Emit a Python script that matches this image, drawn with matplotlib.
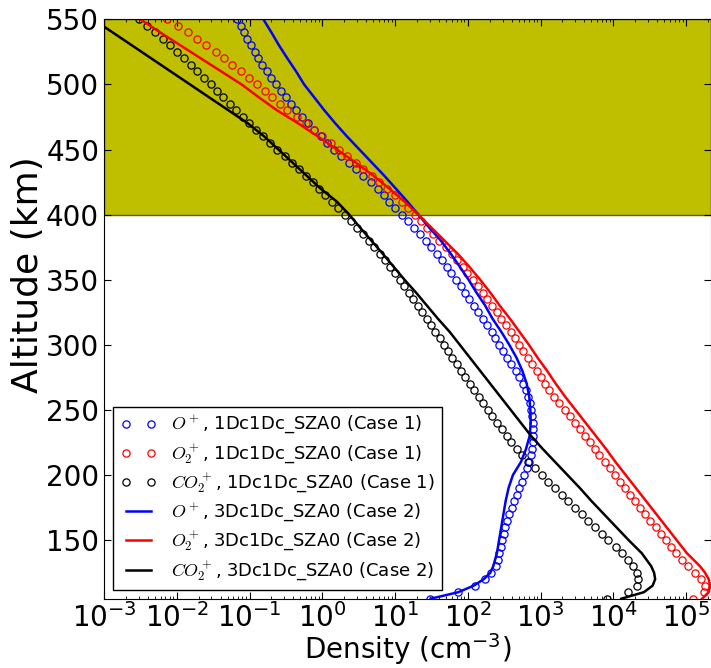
import numpy as np
import matplotlib
matplotlib.use("Agg")
import matplotlib.pyplot as plt
from matplotlib.ticker import LogLocator

plt.rcParams['axes.unicode_minus'] = False
plt.rcParams['xtick.direction'] = 'in'
plt.rcParams['ytick.direction'] = 'in'
plt.rcParams['xtick.top'] = True
plt.rcParams['ytick.right'] = True

# altitude grid of the 1D model (circles), km
alt_1d = [550, 545, 540, 535, 530, 525, 520, 515, 510, 505,
          500, 495, 490, 485, 480, 475, 470, 465, 460, 455,
          450, 445, 440, 435, 430, 425, 420, 415, 410, 405,
          400, 395, 390, 385, 380, 375, 370, 365, 360, 355,
          350, 345, 340, 335, 330, 325, 320, 315, 310, 305,
          300, 295, 290, 285, 280, 275, 270, 265, 260, 255,
          250, 245, 240, 235, 230, 225, 220, 215, 210, 205,
          200, 195, 190, 185, 180, 175, 170, 165, 160, 155,
          150, 145, 140, 135, 130, 125, 120, 115, 110, 105]

# log10 density (cm^-3), case 1
op_1d = [-1.168, -1.121, -1.076, -1.030, -0.979, -0.929, -0.879, -0.824, -0.764, -0.700,
         -0.636, -0.572, -0.503, -0.434, -0.357, -0.274, -0.196, -0.113, -0.021, 0.070,
         0.162, 0.262, 0.368, 0.460, 0.564, 0.666, 0.766, 0.85, 0.92, 1.00,
         1.09, 1.18, 1.26, 1.34, 1.42, 1.49, 1.57, 1.64, 1.71, 1.77,
         1.84, 1.90, 1.96, 2.02, 2.08, 2.14, 2.21, 2.27, 2.33, 2.38,
         2.43, 2.49, 2.54, 2.60, 2.66, 2.70, 2.755, 2.796, 2.828, 2.851,
         2.874, 2.888, 2.897, 2.901, 2.901, 2.892, 2.883, 2.865, 2.842, 2.810,
         2.773, 2.741, 2.709, 2.672, 2.636, 2.603, 2.571, 2.539, 2.516, 2.493,
         2.470, 2.452, 2.434, 2.416, 2.384, 2.324, 2.237, 2.100, 1.870, 1.481]

o2p_1d = [-2.130, -1.983, -1.845, -1.717, -1.594, -1.465, -1.351, -1.236, -1.121, -1.007,
          -0.892, -0.783, -0.686, -0.581, -0.480, -0.351, -0.228, -0.113, 0.001, 0.116,
          0.230, 0.345, 0.460, 0.564, 0.680, 0.784, 0.894, 0.996, 1.092, 1.18,
          1.27, 1.36, 1.436, 1.527, 1.610, 1.701, 1.779, 1.857, 1.930, 1.994,
          2.067, 2.136, 2.205, 2.269, 2.333, 2.398, 2.457, 2.526, 2.590, 2.649,
          2.709, 2.764, 2.824, 2.883, 2.948, 3.007, 3.062, 3.121, 3.19, 3.26,
          3.33, 3.40, 3.47, 3.54, 3.61, 3.68, 3.75, 3.81, 3.88, 3.95,
          4.02, 4.09, 4.16, 4.23, 4.30, 4.37, 4.44, 4.51, 4.58, 4.65,
          4.72, 4.79, 4.86, 4.94, 5.03, 5.12, 5.20, 5.26, 5.24, 5.10]

co2p_1d = [-2.519, -2.413, -2.303, -2.193, -2.088, -1.992, -1.900, -1.804, -1.717, -1.625,
           -1.533, -1.442, -1.360, -1.268, -1.181, -1.094, -1.002, -0.906, -0.814, -0.718,
           -0.622, -0.516, -0.416, -0.315, -0.219, -0.123, -0.040, 0.042, 0.130, 0.22,
           0.313, 0.400, 0.483, 0.560, 0.638, 0.711, 0.790, 0.862, 0.931, 1.000,
           1.064, 1.128, 1.188, 1.252, 1.312, 1.371, 1.436, 1.495, 1.554, 1.614,
           1.674, 1.733, 1.788, 1.848, 1.907, 1.966, 2.027, 2.086, 2.150, 2.210,
           2.274, 2.337, 2.402, 2.470, 2.535, 2.599, 2.673, 2.742, 2.832, 2.924,
           3.017, 3.108, 3.199, 3.291, 3.383, 3.474, 3.566, 3.658, 3.749, 3.841,
           3.932, 4.03, 4.116, 4.207, 4.276, 4.321, 4.344, 4.321, 4.207, 3.91]

# altitude grid of the 3D model (lines), km
alt_3d = [550, 540, 530, 520, 510, 500, 490, 480, 470, 460,
          450, 440, 430, 420, 410, 400, 390, 380, 370, 360,
          350, 340, 330, 320, 310, 300, 290, 280, 270, 260,
          250, 240, 230, 220, 210, 200, 190, 180, 170, 160,
          150, 140, 130, 125, 120, 115, 110, 105]

op_3d = [-0.81, -0.70, -0.595, -0.48, -0.36, -0.25, -0.11, 0.03, 0.18, 0.34,
         0.51, 0.68, 0.85, 1.01, 1.17, 1.32, 1.47, 1.63, 1.765, 1.89,
         2.01, 2.12, 2.24, 2.34, 2.46, 2.57, 2.67, 2.75, 2.81, 2.845,
         2.86, 2.865, 2.85, 2.80, 2.73, 2.62, 2.56, 2.52, 2.49, 2.46,
         2.43, 2.40, 2.35, 2.31, 2.22, 2.08, 1.87, 1.49]

o2p_3d = [-2.50, -2.23, -1.95, -1.67, -1.39, -1.11, -0.87, -0.62, -0.33, -0.06,
          0.20, 0.46, 0.70, 0.92, 1.13, 1.32, 1.50, 1.68, 1.86, 2.02,
          2.17, 2.31, 2.44, 2.58, 2.71, 2.84, 2.96, 3.09, 3.21, 3.34,
          3.48, 3.62, 3.76, 3.90, 4.03, 4.17, 4.31, 4.45, 4.59, 4.73,
          4.87, 5.01, 5.19, 5.26, 5.31, 5.33, 5.31, 5.22]

co2p_3d = [-3.15, -2.883, -2.617, -2.351, -2.085, -1.819, -1.553, -1.287, -1.021, -0.797,
           -0.603, -0.41, -0.217, -0.024, 0.20, 0.37, 0.52, 0.675, 0.83, 0.98,
           1.13, 1.29, 1.44, 1.59, 1.75, 1.89, 2.03, 2.17, 2.31, 2.45,
           2.59, 2.73, 2.87, 3.03, 3.20, 3.37, 3.54, 3.70, 3.87, 4.04,
           4.21, 4.39, 4.52, 4.56, 4.575, 4.54, 4.42, 4.11]

labels_1d = [r'$O^+$, 1Dc1Dc_SZA0 (Case 1)',
             r'$O_2^+$, 1Dc1Dc_SZA0 (Case 1)',
             r'$CO_2^+$, 1Dc1Dc_SZA0 (Case 1)']
labels_3d = [r'$O^+$, 3Dc1Dc_SZA0 (Case 2)',
             r'$O_2^+$, 3Dc1Dc_SZA0 (Case 2)',
             r'$CO_2^+$, 3Dc1Dc_SZA0 (Case 2)']
colors = ['b', 'r', 'k']

fig = plt.figure(figsize=(7.11, 6.68), dpi=100)
ax = fig.add_axes([104/711, 69.3/668, 607/711, 579.4/668])

ax.axhspan(400, 550, facecolor='#bfbf00', edgecolor='#5a5a28', lw=1, zorder=0)

handles = []
for dens, c, lab in zip([op_1d, o2p_1d, co2p_1d], colors, labels_1d):
    h, = ax.plot(10**np.array(dens), alt_1d, 'o', mfc='none', mec=c, ms=5.2, mew=0.9, label=lab)
    handles.append(h)
for dens, c, lab in zip([op_3d, o2p_3d, co2p_3d], colors, labels_3d):
    h, = ax.plot(10**np.array(dens), alt_3d, '-', color=c, lw=1.8, label=lab)
    handles.append(h)

ax.set_xscale('log')
ax.set_xlim(1e-3, 2.2e5)
ax.set_ylim(105, 550)
ax.xaxis.set_major_locator(LogLocator(base=10, numticks=20))
ax.xaxis.set_minor_locator(LogLocator(base=10, subs=np.arange(2, 10), numticks=20))
ax.set_yticks(range(150, 551, 50))
ax.tick_params(axis='both', which='major', labelsize=20, length=5)
ax.tick_params(axis='x', which='major', pad=3)
ax.tick_params(axis='both', which='minor', length=2.5)
ax.set_xlabel(r'Density (cm$^{-3}$)', fontsize=20, labelpad=-1)
ax.set_ylabel('Altitude (km)', fontsize=26)
ax.yaxis.set_label_coords(-0.097, 0.56)

leg = ax.legend(handles=handles, loc='lower left', bbox_to_anchor=(0.015, 0.015),
                borderaxespad=0, numpoints=2, fontsize=13, fancybox=False,
                framealpha=1, edgecolor='k', labelspacing=0.34)
for t in leg.get_texts():
    t.set_math_fontfamily('cm')

fig.savefig('out.png', dpi=100)
